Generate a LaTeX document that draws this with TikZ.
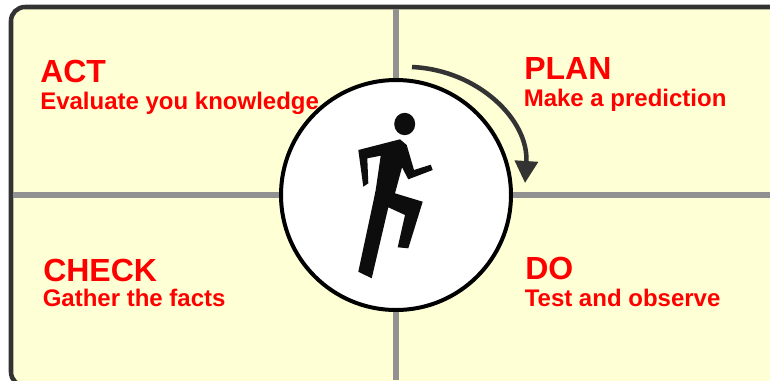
\documentclass[tikz,border=0pt]{standalone}
\usepackage{fontspec}
\setmainfont{Liberation Sans}
\usetikzlibrary{arrows.meta}
\definecolor{pad}{HTML}{FFFFD5}
\definecolor{edge}{HTML}{333333}
\definecolor{grid}{HTML}{919191}
\definecolor{ink}{HTML}{FF0000}
\definecolor{runner}{HTML}{0D0D0D}
\tikzset{
  frame/.style={draw=edge,line width=3.4pt,fill=pad,rounded corners=10.5pt},
  gridline/.style={draw=grid,line width=5.2pt},
  hubdisc/.style={circle,draw=black,line width=3pt,fill=white,minimum size=172.5pt,inner sep=0pt},
  title/.style={anchor=base west,inner sep=0pt,text=ink,font=\bfseries\fontsize{24}{24}\selectfont},
  subtitle/.style={anchor=base west,inner sep=0pt,text=ink,font=\bfseries\fontsize{18}{18}\selectfont},
  cycle/.style={draw=edge,line width=3.4pt,-{Triangle[length=16.5pt,width=17pt]}}
}
\begin{document}
\begin{tikzpicture}[x=0.75pt,y=-0.75pt]
\useasboundingbox (0,0) rectangle (770,380);
\begin{scope}
\clip (0,0) rectangle (770,380);
\path[frame] (11,7) rectangle (800,386);
\end{scope}
\coordinate (top) at (396,9);
\coordinate (bottom) at (396,380);
\coordinate (left) at (13,195);
\coordinate (right) at (770,195);
\node[hubdisc] (hub) at (396,195) {};
\draw[gridline] (top) -- (hub.north);
\draw[gridline] (bottom) -- (hub.south);
\draw[gridline] (left) -- (hub.west);
\draw[gridline] (right) -- (hub.east);
\fill[runner] (404.7,124) ellipse [x radius=10.5, y radius=11.2];
\fill[runner] (358.3,150) -- (400,139.3) -- (406.7,145) -- (414,170) -- (430.7,164.7) -- (432.7,170) -- (408.3,179.3) -- (402,167.3) -- (395,193.3) -- (422.7,201.7) -- (408.3,248.3) -- (397.7,247.3) -- (405,215) -- (388.3,207.3) -- (371.7,278.3) -- (358.3,271.7) -- (373.3,201.7) -- (375.7,190) -- (380.7,155.7) -- (367.3,158.3) -- (368.3,183.3) -- (363.3,186.7) -- cycle;
\coordinate (cyclestart) at (412,67);
\coordinate (cycleend) at (525,183);
\draw[cycle] (cyclestart) .. controls (478,70) and (529,120) .. (cycleend);
\node[title] (act) at (40,82) {ACT};
\node[subtitle] (actsub) at (40,109) {Evaluate you knowledge};
\node[title] (plan) at (524,79) {PLAN};
\node[subtitle] (plansub) at (523.5,106) {Make a prediction};
\node[title] (check) at (43,281) {CHECK};
\node[subtitle] (checksub) at (42.5,306) {Gather the facts};
\node[title] (do) at (525,279) {DO};
\node[subtitle] (dosub) at (524.5,306) {Test and observe};
\end{tikzpicture}
\end{document}
